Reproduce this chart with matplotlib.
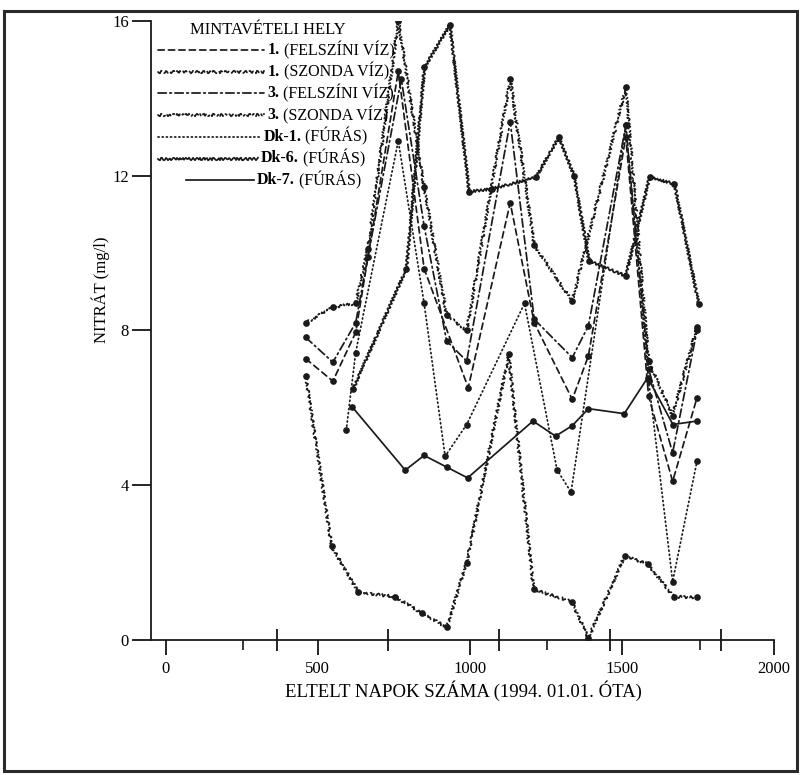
import matplotlib.pyplot as plt
from matplotlib.lines import Line2D
from matplotlib.patches import Rectangle

plt.rcParams['font.family'] = ['Liberation Serif', 'DejaVu Serif']
plt.rcParams['lines.scale_dashes'] = False

# napok 1994.01.01. óta / nitrát mg/l
felsz1_nap = [461, 550, 625, 765, 850, 995, 1133, 1212, 1337, 1390, 1513, 1588, 1667, 1747]
felsz1_no3 = [7.27, 6.69, 7.95, 14.7, 9.6, 6.52, 11.3, 8.2, 6.22, 7.34, 13.0, 6.3, 4.10, 6.26]

szonda1_nap = [461, 546, 634, 753, 844, 924, 990, 1128, 1210, 1335, 1390, 1510, 1585, 1671, 1747]
szonda1_no3 = [6.82, 2.42, 1.23, 1.12, 0.69, 0.33, 2.0, 7.38, 1.31, 0.99, 0.05, 2.18, 1.96, 1.12, 1.10]

felsz3_nap = [461, 550, 625, 665, 775, 850, 924, 990, 1133, 1212, 1337, 1390, 1513, 1588, 1667, 1747]
felsz3_no3 = [7.82, 7.18, 8.2, 9.9, 14.5, 10.7, 7.73, 7.21, 13.4, 8.29, 7.3, 8.12, 13.3, 7.0, 4.84, 8.0]

szonda3_nap = [461, 550, 625, 665, 765, 850, 924, 990, 1133, 1212, 1337, 1513, 1588, 1667, 1747]
szonda3_no3 = [8.2, 8.6, 8.7, 10.1, 16.0, 11.7, 8.4, 8.0, 14.5, 10.2, 8.76, 14.3, 7.2, 5.8, 8.1]

dk1_nap = [594, 625, 765, 850, 919, 990, 1180, 1287, 1333, 1513, 1588, 1667, 1747]
dk1_no3 = [5.42, 7.43, 12.9, 8.7, 4.75, 5.57, 8.7, 4.4, 3.82, 13.3, 6.7, 1.51, 4.62]

dk6_nap = [616, 792, 851, 935, 998, 1073, 1218, 1293, 1343, 1392, 1513, 1591, 1673, 1753]
dk6_no3 = [6.48, 9.6, 14.8, 15.9, 11.59, 11.66, 11.96, 13.0, 12.0, 9.8, 9.41, 11.96, 11.79, 8.68]

dk7_nap = [613, 788, 850, 924, 993, 1208, 1282, 1337, 1390, 1508, 1585, 1668, 1747]
dk7_no3 = [6.03, 4.39, 4.77, 4.47, 4.19, 5.66, 5.27, 5.54, 5.98, 5.85, 6.78, 5.57, 5.66]

x_ticks = [0, 500, 1000, 1500, 2000]
ev_ticks = [365, 730, 1096, 1461, 1826]
egyeb_ticks = [253, 1254, 1756]
y_ticks = [0, 4, 8, 12, 16]

# felirat eleje (félkövér), felirat vége, vonaltípus, hullámos-e, adatok
sorozatok = [
    ('1.', ' (FELSZÍNI VÍZ)', (0, (4.5, 3)), False, felsz1_nap, felsz1_no3),
    ('1.', ' (SZONDA VÍZ)', (0, (4, 3)), True, szonda1_nap, szonda1_no3),
    ('3.', ' (FELSZÍNI VÍZ)', (0, (6, 2.5, 1.2, 2.5)), False, felsz3_nap, felsz3_no3),
    ('3.', ' (SZONDA VÍZ)', (0, (4, 2.5, 1.2, 2.5)), True, szonda3_nap, szonda3_no3),
    ('Dk-1.', ' (FÚRÁS)', (0, (0.8, 2.2)), False, dk1_nap, dk1_no3),
    ('Dk-6.', ' (FÚRÁS)', '-', True, dk6_nap, dk6_no3),
    ('Dk-7.', ' (FÚRÁS)', '-', False, dk7_nap, dk7_no3),
]
# jelmagyarázat vonalainak vízszintes helye (ábra-koordináta)
jel_x = [(0.197, 0.329), (0.197, 0.329), (0.197, 0.329), (0.197, 0.329),
         (0.197, 0.324), (0.197, 0.321), (0.232, 0.316)]

fig = plt.figure(figsize=(8.03, 7.75), dpi=100)
ax = fig.add_axes([0.188, 0.1742, 0.7758, 0.7987])

for elo, nev, ls, hullam, nap, no3 in sorozatok:
    ln, = ax.plot(nap, no3, color='#1a1a1a', lw=1.25, ls=ls,
                  marker='o', ms=3.8, mfc='#1a1a1a', mec='#1a1a1a',
                  dash_capstyle='round')
    if hullam:
        ln.set_sketch_params(scale=1.3, length=4, randomness=2)

ax.set_xlim(-48, 2000)
ax.set_ylim(0, 16)
for s in ['top', 'right']:
    ax.spines[s].set_visible(False)
for s in ['left', 'bottom']:
    ax.spines[s].set_linewidth(1.3)
    ax.spines[s].set_color('#1a1a1a')

ax.set_xticks(x_ticks)
ax.set_xticks(ev_ticks, minor=True)
ax.set_yticks(y_ticks)
ax.tick_params(axis='x', which='major', direction='out', length=11, width=1.2,
               labelsize=12, pad=4)
ax.tick_params(axis='x', which='minor', direction='inout', length=16, width=1.2)
ax.tick_params(axis='y', which='major', direction='out', length=14, width=1.2,
               labelsize=12, pad=2)

sec = ax.secondary_xaxis('bottom')
sec.set_xticks(egyeb_ticks, labels=[])
sec.tick_params(direction='out', length=7, width=1.1)
sec.spines['bottom'].set_visible(False)

fig.text(0.577, 0.109, 'ELTELT NAPOK SZÁMA (1994. 01.01. ÓTA)', ha='center',
         va='center', fontsize=13.5)
fig.text(0.125, 0.626, 'NITRÁT (mg/l)', ha='center', va='center',
         rotation=90, fontsize=12)

# jelmagyarázat
fig.text(0.333, 0.961, 'MINTAVÉTELI HELY', ha='center', va='center', fontsize=12)
for i, (elo, nev, ls, hullam, nap, no3) in enumerate(sorozatok):
    y = 1 - (50 + 21.7 * i) / 775
    x0, x1 = jel_x[i]
    h = Line2D([x0, x1], [y, y], transform=fig.transFigure,
               color='#1a1a1a', lw=1.25, ls=ls, dash_capstyle='round')
    if hullam:
        h.set_sketch_params(scale=1.3, length=4, randomness=2)
    fig.add_artist(h)
    t = fig.text(x1 + 0.004, y, elo, ha='left', va='center', fontsize=11.5,
                 fontweight='bold')
    ax.annotate(nev, xy=(1, 0.5), xycoords=t, ha='left', va='center',
                fontsize=11.5)

fig.add_artist(Rectangle((0.005, 0.005), 0.988, 0.981, transform=fig.transFigure,
                         fill=False, lw=2.2, ec='#2a2a2a'))

plt.savefig('out.png', dpi=100)
